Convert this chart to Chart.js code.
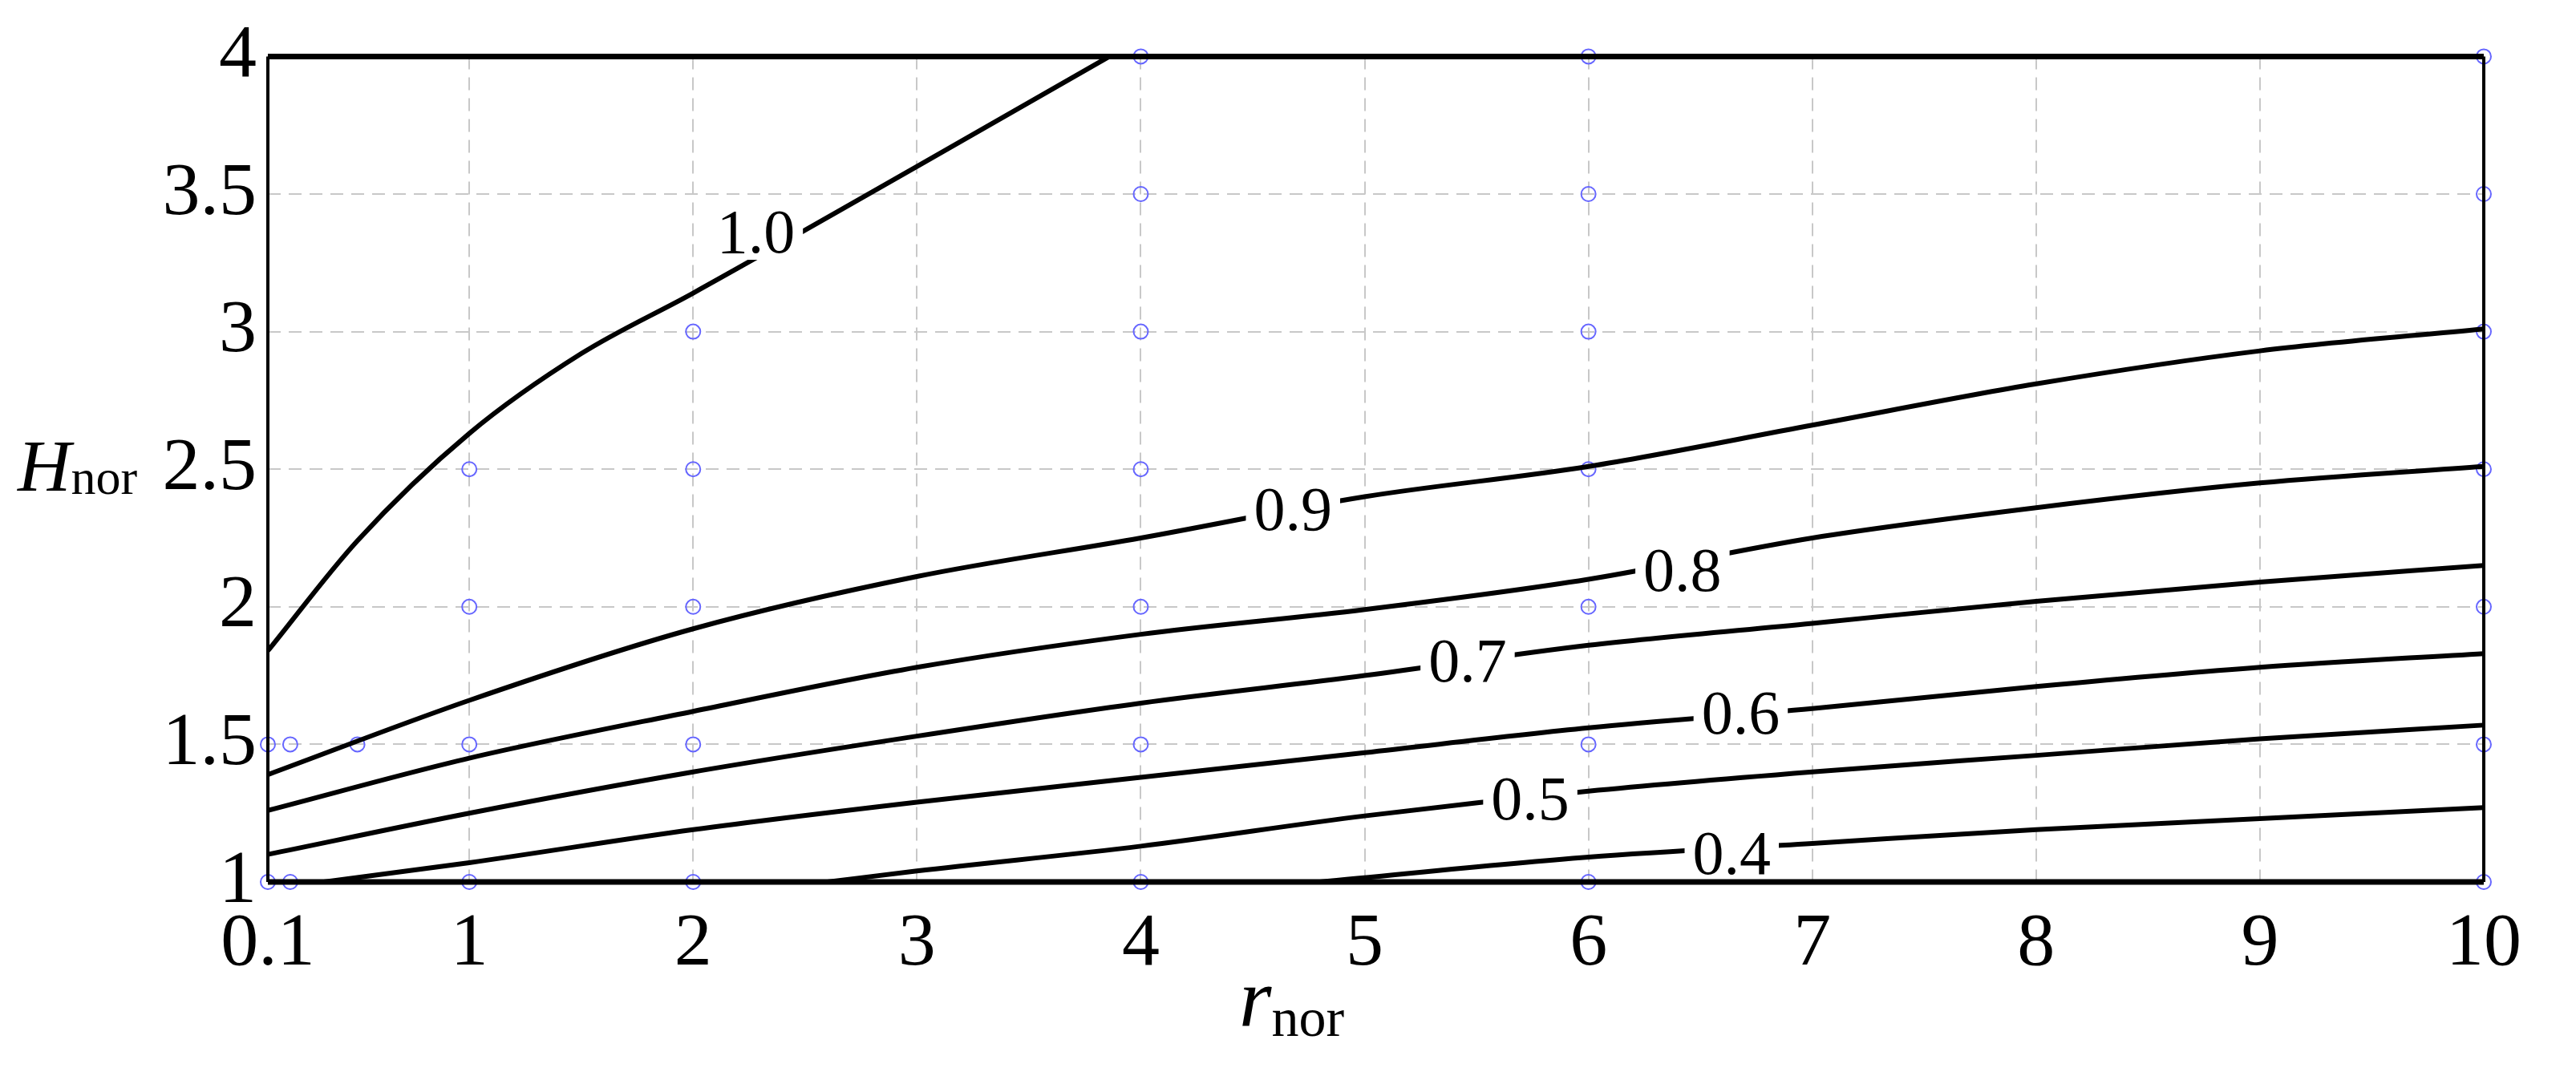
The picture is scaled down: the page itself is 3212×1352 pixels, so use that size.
<!DOCTYPE html>
<html><head><meta charset="utf-8">
<script src="https://cdn.jsdelivr.net/npm/chart.js@4/dist/chart.umd.min.js"></script>
<style>html,body{margin:0;padding:0;background:#fff}#w{width:3212px;height:1352px}</style>
</head><body><div id="w"><canvas id="c"></canvas></div>
<script>
const xTicks=[0.1,1,2,3,4,5,6,7,8,9,10];
const yTicks=[1,1.5,2,2.5,3,3.5,4];
const line10=[[0.1,1.84],[0.5,2.24],[1,2.63],[1.5,2.92],[2,3.14],[3,3.6],[3.86,4]];
const line09=[[0.1,1.39],[1,1.66],[2,1.92],[3,2.11],[4,2.25],[5,2.4],[6,2.51],[7,2.66],[8,2.81],[9,2.93],[10,3.01]];
const line08=[[0.1,1.26],[1,1.45],[2,1.62],[3,1.78],[4,1.9],[5,1.99],[6,2.1],[7,2.25],[8,2.36],[9,2.45],[10,2.51]];
const line07=[[0.1,1.1],[1,1.25],[2,1.4],[3,1.53],[4,1.65],[5,1.75],[6,1.86],[7,1.94],[8,2.02],[9,2.09],[10,2.15]];
const line06=[[0.35,1],[1,1.07],[2,1.19],[3,1.29],[4,1.38],[5,1.47],[6,1.56],[7,1.63],[8,1.71],[9,1.78],[10,1.83]];
const line05=[[2.6,1],[3,1.04],[4,1.13],[5,1.24],[6,1.33],[7,1.4],[8,1.46],[9,1.52],[10,1.57]];
const line04=[[4.8,1],[6,1.09],[7,1.14],[8,1.19],[9,1.23],[10,1.27]];
const labels=[["1.0",2.28,3.36],["0.9",4.68,2.35],["0.8",6.42,2.13],["0.7",5.46,1.8],["0.6",6.68,1.61],["0.5",5.74,1.3],["0.4",6.64,1.1]];
const samples=[[0.1,1],[0.2,1],[0.1,1.5],[0.2,1.5],[0.5,1.5],
[1,1],[1,1.5],[1,2],[1,2.5],[2,1],[2,1.5],[2,2],[2,2.5],[2,3],
[4,1],[4,1.5],[4,2],[4,2.5],[4,3],[4,3.5],[4,4],
[6,1],[6,1.5],[6,2],[6,2.5],[6,3],[6,3.5],[6,4],
[10,1],[10,1.5],[10,2],[10,2.5],[10,3],[10,3.5],[10,4]];
const toPts=a=>a.map(p=>({x:p[0],y:p[1]}));
const F='"Liberation Serif","Times New Roman",serif';
const lineDs=[line10,line09,line08,line07,line06,line05,line04].map(l=>({type:'line',data:toPts(l),borderColor:'#000',borderWidth:6,pointRadius:0,cubicInterpolationMode:'monotone',fill:false,clip:4}));
const extra={id:'extra',
afterDatasetsDraw(ch){const {ctx,scales:{x,y},chartArea:a}=ch;ctx.save();
ctx.font='78px '+F;ctx.textAlign='center';ctx.textBaseline='middle';
labels.forEach(([t,vx,vy])=>{const px=x.getPixelForValue(vx),py=y.getPixelForValue(vy);const w=ctx.measureText(t).width;ctx.fillStyle='#fff';ctx.fillRect(px-w/2-10,py-34,w+20,68);ctx.fillStyle='#000';ctx.fillText(t,px,py+4);});
ctx.strokeStyle='#000';ctx.lineWidth=7;ctx.beginPath();ctx.moveTo(a.left,a.top);ctx.lineTo(a.right,a.top);ctx.moveTo(a.left,a.bottom);ctx.lineTo(a.right,a.bottom);ctx.stroke();
ctx.lineWidth=4;ctx.beginPath();ctx.moveTo(a.left,a.top);ctx.lineTo(a.left,a.bottom);ctx.moveTo(a.right,a.top);ctx.lineTo(a.right,a.bottom);ctx.stroke();
ctx.fillStyle='#000';ctx.textAlign='left';ctx.textBaseline='alphabetic';
ctx.font='italic 92px '+F;ctx.fillText('H',22,612);let w=ctx.measureText('H').width;ctx.font='62px '+F;ctx.fillText('nor',22+w,616);
ctx.font='italic 104px '+F;ctx.fillText('r',1545,1280);w=ctx.measureText('r').width;ctx.font='68px '+F;ctx.fillText('nor',1545+w,1292);
ctx.restore();}};
new Chart(document.getElementById('c'),{
data:{datasets:[...lineDs,{type:'scatter',data:toPts(samples),pointRadius:9,pointBorderColor:'#6666ff',pointBackgroundColor:'rgba(0,0,0,0)',pointBorderWidth:2,clip:20}]},
options:{responsive:true,maintainAspectRatio:false,animation:false,
layout:{padding:{left:0,top:66,right:115,bottom:0}},
plugins:{legend:{display:false},tooltip:{enabled:false}},
scales:{
x:{type:'linear',min:0.1,max:10,afterBuildTicks:s=>{s.ticks=xTicks.map(v=>({value:v}));},
afterFit:s=>{s.height=252;},
ticks:{font:{family:F,size:94},color:'#000',padding:22,maxRotation:0,autoSkip:false,callback:v=>String(v)},
grid:{color:'#c8c8c8',lineWidth:2,drawTicks:false},border:{display:false,dash:[16,10]}},
y:{type:'linear',min:1,max:4,afterBuildTicks:s=>{s.ticks=yTicks.map(v=>({value:v}));},
afterFit:s=>{s.width=334;},
ticks:{font:{family:F,size:94},color:'#000',padding:14,autoSkip:false,callback:v=>String(v)},
grid:{color:'#c8c8c8',lineWidth:2,drawTicks:false},border:{display:false,dash:[16,10]}}}},
plugins:[extra]});
</script></body></html>
